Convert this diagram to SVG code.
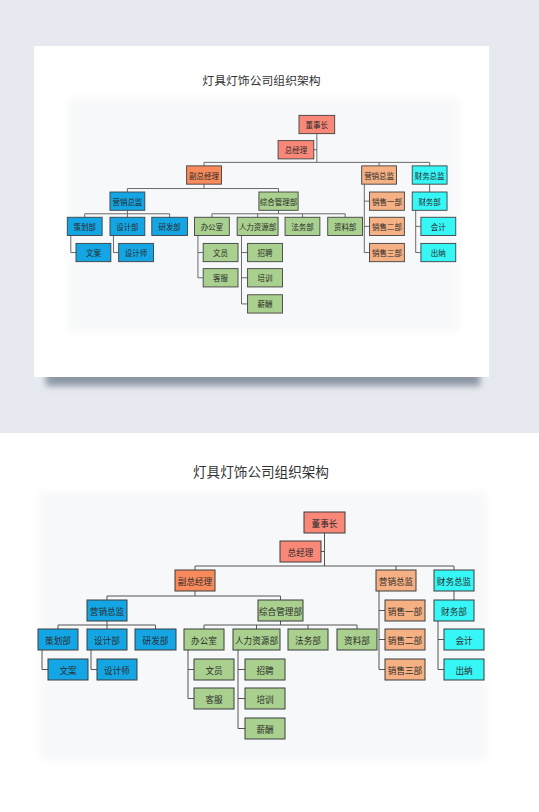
<svg xmlns="http://www.w3.org/2000/svg" xmlns:xlink="http://www.w3.org/1999/xlink" width="539" height="812" viewBox="0 0 539 812">
<defs>
<style>
.n rect{stroke:#3c3c3c;stroke-width:1}
.n text{font-family:"Noto Sans CJK SC","Noto Sans",sans-serif;font-size:8.6px;fill:#2a2a2a;text-anchor:middle;dominant-baseline:central}
.red rect{fill:#f98878}
.org rect{fill:#f88a5c}
.tan rect{fill:#f5b083}
.cy rect{fill:#36f6f6}
.bl rect{fill:#14a6e4}
.gr rect{fill:#a9d08e}
#conn path{fill:none;stroke:#555;stroke-width:1}
.title{font-family:"Noto Sans CJK SC","Noto Sans",sans-serif;font-size:13.6px;fill:#333;text-anchor:middle}
</style>
<filter id="blur" x="-10%" y="-100%" width="120%" height="300%"><feGaussianBlur stdDeviation="3"/></filter>
<filter id="soft" x="-5%" y="-5%" width="110%" height="110%"><feGaussianBlur stdDeviation="4"/></filter>
</defs>
<rect x="0" y="0" width="539" height="433" fill="#e6e9ef"/>
<rect x="0" y="433" width="539" height="379" fill="#ffffff"/>
<rect x="46" y="368" width="434" height="18" fill="#8e98a4" filter="url(#blur)"/>
<rect x="34" y="46" width="455" height="331" fill="#ffffff"/>
<g id="chart">
<rect x="40" y="492" width="447" height="268" fill="#f7f8f9" filter="url(#soft)"/>
<text class="title" x="261" y="477">灯具灯饰公司组织架构</text>
<g id="conn">
<path d="M324.5 533V566M321 551.5H324.5M195 566H454M195 566V570M396 566V570M454 566V570"/>
<path d="M195 591V596M107 596H280.5M107 596V600M280.5 596V600"/>
<path d="M107 621V625M58 625H155.5M58 625V629M107 625V629M155.5 625V629"/>
<path d="M42 650V669.5H48M91 650V669.5H97"/>
<path d="M280.5 621V625M204 625H357M204 625V629M256.5 625V629M308 625V629M357 625V629"/>
<path d="M188 650V698.5H194M188 669.5H194"/>
<path d="M238 650V728.5H245M238 669.5H245M238 698.5H245"/>
<path d="M379 591V669.5H385M379 610.5H385M379 639.5H385"/>
<path d="M454 591V600M438 621V669.5H444M438 639.5H444"/>
</g>
<g id="n-dongshizhang" class="n red"><rect x="304" y="512" width="41" height="21"/><text x="324.5" y="522.5">董事长</text></g>
<g id="n-zongjingli" class="n red"><rect x="280" y="541" width="41" height="21"/><text x="300.5" y="551.5">总经理</text></g>
<g id="n-fuzongjingli" class="n org"><rect x="175" y="570" width="40" height="21"/><text x="195" y="580.5">副总经理</text></g>
<g id="n-yingxiaozongjian-b" class="n tan"><rect x="376" y="570" width="40" height="21"/><text x="396" y="580.5">营销总监</text></g>
<g id="n-caiwuzongjian" class="n cy"><rect x="434" y="570" width="40" height="21"/><text x="454" y="580.5">财务总监</text></g>
<g id="n-yingxiaozongjian-a" class="n bl"><rect x="87" y="600" width="40" height="21"/><text x="107" y="610.5">营销总监</text></g>
<g id="n-zongheguanlibu" class="n gr"><rect x="258" y="600" width="45" height="21"/><text x="280.5" y="610.5">综合管理部</text></g>
<g id="n-cehuabu" class="n bl"><rect x="38" y="629" width="40" height="21"/><text x="58" y="639.5">策划部</text></g>
<g id="n-shejibu" class="n bl"><rect x="87" y="629" width="40" height="21"/><text x="107" y="639.5">设计部</text></g>
<g id="n-yanfabu" class="n bl"><rect x="135" y="629" width="41" height="21"/><text x="155.5" y="639.5">研发部</text></g>
<g id="n-wenan" class="n bl"><rect x="48" y="659" width="40" height="21"/><text x="68" y="669.5">文案</text></g>
<g id="n-shejishi" class="n bl"><rect x="97" y="659" width="40" height="21"/><text x="117" y="669.5">设计师</text></g>
<g id="n-bangongshi" class="n gr"><rect x="184" y="629" width="40" height="21"/><text x="204" y="639.5">办公室</text></g>
<g id="n-renliziyuanbu" class="n gr"><rect x="233" y="629" width="47" height="21"/><text x="256.5" y="639.5">人力资源部</text></g>
<g id="n-fawubu" class="n gr"><rect x="288" y="629" width="40" height="21"/><text x="308" y="639.5">法务部</text></g>
<g id="n-ziliaobu" class="n gr"><rect x="337" y="629" width="40" height="21"/><text x="357" y="639.5">资料部</text></g>
<g id="n-wenyuan" class="n gr"><rect x="194" y="659" width="40" height="21"/><text x="214" y="669.5">文员</text></g>
<g id="n-kefu" class="n gr"><rect x="194" y="688" width="40" height="21"/><text x="214" y="698.5">客服</text></g>
<g id="n-zhaopin" class="n gr"><rect x="245" y="659" width="40" height="21"/><text x="265" y="669.5">招聘</text></g>
<g id="n-peixun" class="n gr"><rect x="245" y="688" width="40" height="21"/><text x="265" y="698.5">培训</text></g>
<g id="n-xinchou" class="n gr"><rect x="245" y="718" width="40" height="21"/><text x="265" y="728.5">薪酬</text></g>
<g id="n-xiaoshou1" class="n tan"><rect x="385" y="600" width="40" height="21"/><text x="405" y="610.5">销售一部</text></g>
<g id="n-xiaoshou2" class="n tan"><rect x="385" y="629" width="40" height="21"/><text x="405" y="639.5">销售二部</text></g>
<g id="n-xiaoshou3" class="n tan"><rect x="385" y="659" width="40" height="21"/><text x="405" y="669.5">销售三部</text></g>
<g id="n-caiwubu" class="n cy"><rect x="434" y="600" width="40" height="21"/><text x="454" y="610.5">财务部</text></g>
<g id="n-kuaiji" class="n cy"><rect x="444" y="629" width="40" height="21"/><text x="464" y="639.5">会计</text></g>
<g id="n-chuna" class="n cy"><rect x="444" y="659" width="40" height="21"/><text x="464" y="669.5">出纳</text></g>
</g>
<use href="#chart" xlink:href="#chart" transform="matrix(0.871 0 0 0.871 34.2 -330.6)"/>
</svg>
